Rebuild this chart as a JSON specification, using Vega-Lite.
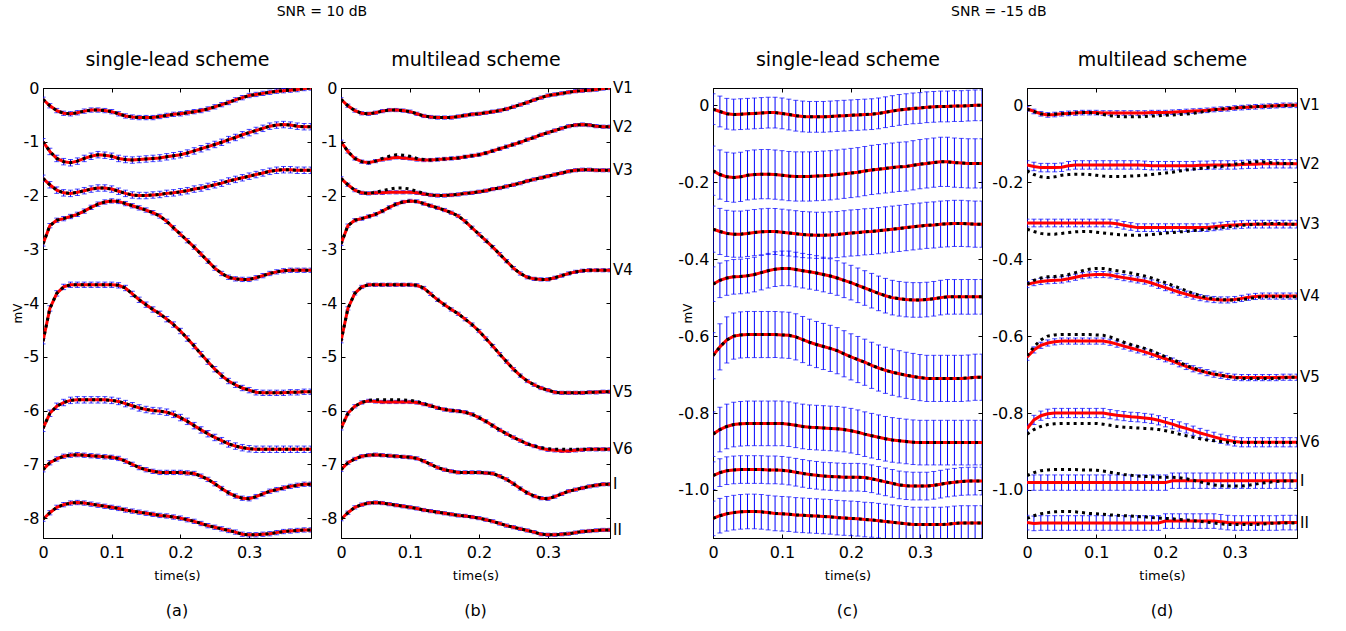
{
"$schema": "https://vega.github.io/schema/vega-lite/v6.json",
"padding": {"left": 10, "top": 5, "right": 5, "bottom": 5},
"background": "white",
"config": {
 "font": "DejaVu Sans",
 "view": {"stroke": "#000000", "strokeWidth": 1},
 "axis": {"grid": false, "tickSize": -4, "labelPadding": 8, "labelFlush": false, "labelOverlap": false, "labelFontSize": 16, "titleFontSize": 13, "titleFontWeight": "normal", "domainColor": "#000000", "tickColor": "#000000", "labelColor": "#000000", "titleColor": "#000000", "labelFont": "DejaVu Sans", "titleFont": "DejaVu Sans"},
 "axisBottom": {"labelPadding": 10, "titlePadding": 9},
 "axisTop": {"titleFontSize": 19, "titlePadding": 18},
 "title": {"fontWeight": "normal", "color": "#000000", "font": "DejaVu Sans", "anchor": "middle", "frame": "group"}
},
"datasets": {
"err": [
{"l":"V1","ea":0.04,"eb":0.03,"ec":0.04,"ed":0.006},
{"l":"V2","ea":0.06,"eb":0.03,"ec":0.064,"ed":0.011},
{"l":"V3","ea":0.06,"eb":0.03,"ec":0.06,"ed":0.01},
{"l":"V4","ea":0.04,"eb":0.03,"ec":0.045,"ed":0.008},
{"l":"V5","ea":0.05,"eb":0.03,"ec":0.06,"ed":0.008},
{"l":"V6","ea":0.06,"eb":0.03,"ec":0.058,"ed":0.012},
{"l":"I","ea":0.04,"eb":0.03,"ec":0.036,"ed":0.02},
{"l":"II","ea":0.04,"eb":0.03,"ec":0.045,"ed":0.019}
],
"sig": [
{"l":"V1","t":0,"k1":-0.21,"b":-0.21,"k2":-0.01,"d":-0.009},
{"l":"V1","t":0.01,"k1":-0.33,"b":-0.33,"k2":-0.016,"d":-0.016},
{"l":"V1","t":0.02,"k1":-0.42,"b":-0.42,"k2":-0.022,"d":-0.022},
{"l":"V1","t":0.03,"k1":-0.47,"b":-0.47,"k2":-0.024,"d":-0.025},
{"l":"V1","t":0.04,"k1":-0.48,"b":-0.48,"k2":-0.023,"d":-0.024},
{"l":"V1","t":0.05,"k1":-0.46,"b":-0.46,"k2":-0.022,"d":-0.022},
{"l":"V1","t":0.06,"k1":-0.43,"b":-0.43,"k2":-0.021,"d":-0.021},
{"l":"V1","t":0.07,"k1":-0.41,"b":-0.41,"k2":-0.02,"d":-0.02},
{"l":"V1","t":0.08,"k1":-0.41,"b":-0.41,"k2":-0.019,"d":-0.019},
{"l":"V1","t":0.09,"k1":-0.42,"b":-0.42,"k2":-0.019,"d":-0.019},
{"l":"V1","t":0.1,"k1":-0.44,"b":-0.44,"k2":-0.021,"d":-0.019},
{"l":"V1","t":0.11,"k1":-0.48,"b":-0.48,"k2":-0.024,"d":-0.02},
{"l":"V1","t":0.12,"k1":-0.52,"b":-0.52,"k2":-0.027,"d":-0.02},
{"l":"V1","t":0.13,"k1":-0.54,"b":-0.54,"k2":-0.029,"d":-0.02},
{"l":"V1","t":0.14,"k1":-0.55,"b":-0.55,"k2":-0.03,"d":-0.02},
{"l":"V1","t":0.15,"k1":-0.55,"b":-0.55,"k2":-0.03,"d":-0.02},
{"l":"V1","t":0.16,"k1":-0.55,"b":-0.55,"k2":-0.03,"d":-0.02},
{"l":"V1","t":0.17,"k1":-0.53,"b":-0.53,"k2":-0.029,"d":-0.02},
{"l":"V1","t":0.18,"k1":-0.51,"b":-0.51,"k2":-0.028,"d":-0.019},
{"l":"V1","t":0.19,"k1":-0.49,"b":-0.49,"k2":-0.027,"d":-0.019},
{"l":"V1","t":0.2,"k1":-0.48,"b":-0.48,"k2":-0.026,"d":-0.019},
{"l":"V1","t":0.21,"k1":-0.46,"b":-0.46,"k2":-0.025,"d":-0.018},
{"l":"V1","t":0.22,"k1":-0.44,"b":-0.44,"k2":-0.024,"d":-0.017},
{"l":"V1","t":0.23,"k1":-0.42,"b":-0.42,"k2":-0.023,"d":-0.016},
{"l":"V1","t":0.24,"k1":-0.39,"b":-0.39,"k2":-0.021,"d":-0.015},
{"l":"V1","t":0.25,"k1":-0.35,"b":-0.35,"k2":-0.018,"d":-0.014},
{"l":"V1","t":0.26,"k1":-0.31,"b":-0.31,"k2":-0.015,"d":-0.013},
{"l":"V1","t":0.27,"k1":-0.27,"b":-0.27,"k2":-0.012,"d":-0.011},
{"l":"V1","t":0.28,"k1":-0.22,"b":-0.22,"k2":-0.01,"d":-0.01},
{"l":"V1","t":0.29,"k1":-0.18,"b":-0.18,"k2":-0.008,"d":-0.009},
{"l":"V1","t":0.3,"k1":-0.14,"b":-0.14,"k2":-0.007,"d":-0.007},
{"l":"V1","t":0.31,"k1":-0.12,"b":-0.12,"k2":-0.005,"d":-0.006},
{"l":"V1","t":0.32,"k1":-0.1,"b":-0.1,"k2":-0.004,"d":-0.005},
{"l":"V1","t":0.33,"k1":-0.08,"b":-0.08,"k2":-0.003,"d":-0.004},
{"l":"V1","t":0.34,"k1":-0.06,"b":-0.06,"k2":-0.003,"d":-0.003},
{"l":"V1","t":0.35,"k1":-0.05,"b":-0.05,"k2":-0.002,"d":-0.002},
{"l":"V1","t":0.36,"k1":-0.04,"b":-0.04,"k2":-0.002,"d":-0.001},
{"l":"V1","t":0.37,"k1":-0.03,"b":-0.03,"k2":-0.001,"d":0},
{"l":"V1","t":0.38,"k1":-0.01,"b":-0.01,"k2":0,"d":0},
{"l":"V1","t":0.39,"k1":0,"b":0,"k2":0,"d":0},
{"l":"V2","t":0,"k1":-1.0,"b":-1.0,"k2":-0.17,"d":-0.155},
{"l":"V2","t":0.01,"k1":-1.18,"b":-1.18,"k2":-0.18,"d":-0.159},
{"l":"V2","t":0.02,"k1":-1.31,"b":-1.31,"k2":-0.186,"d":-0.162},
{"l":"V2","t":0.03,"k1":-1.37,"b":-1.37,"k2":-0.188,"d":-0.162},
{"l":"V2","t":0.04,"k1":-1.39,"b":-1.39,"k2":-0.186,"d":-0.162},
{"l":"V2","t":0.05,"k1":-1.36,"b":-1.36,"k2":-0.182,"d":-0.161},
{"l":"V2","t":0.06,"k1":-1.31,"b":-1.33,"k2":-0.18,"d":-0.157},
{"l":"V2","t":0.07,"k1":-1.27,"b":-1.31,"k2":-0.179,"d":-0.155},
{"l":"V2","t":0.08,"k1":-1.24,"b":-1.29,"k2":-0.179,"d":-0.155},
{"l":"V2","t":0.09,"k1":-1.25,"b":-1.3,"k2":-0.18,"d":-0.155},
{"l":"V2","t":0.1,"k1":-1.27,"b":-1.31,"k2":-0.182,"d":-0.155},
{"l":"V2","t":0.11,"k1":-1.31,"b":-1.33,"k2":-0.184,"d":-0.155},
{"l":"V2","t":0.12,"k1":-1.33,"b":-1.34,"k2":-0.185,"d":-0.155},
{"l":"V2","t":0.13,"k1":-1.34,"b":-1.34,"k2":-0.185,"d":-0.155},
{"l":"V2","t":0.14,"k1":-1.33,"b":-1.33,"k2":-0.185,"d":-0.155},
{"l":"V2","t":0.15,"k1":-1.32,"b":-1.32,"k2":-0.184,"d":-0.155},
{"l":"V2","t":0.16,"k1":-1.31,"b":-1.31,"k2":-0.183,"d":-0.155},
{"l":"V2","t":0.17,"k1":-1.3,"b":-1.3,"k2":-0.182,"d":-0.156},
{"l":"V2","t":0.18,"k1":-1.28,"b":-1.28,"k2":-0.18,"d":-0.157},
{"l":"V2","t":0.19,"k1":-1.26,"b":-1.26,"k2":-0.178,"d":-0.157},
{"l":"V2","t":0.2,"k1":-1.24,"b":-1.24,"k2":-0.176,"d":-0.157},
{"l":"V2","t":0.21,"k1":-1.21,"b":-1.21,"k2":-0.174,"d":-0.157},
{"l":"V2","t":0.22,"k1":-1.17,"b":-1.17,"k2":-0.171,"d":-0.157},
{"l":"V2","t":0.23,"k1":-1.13,"b":-1.13,"k2":-0.168,"d":-0.157},
{"l":"V2","t":0.24,"k1":-1.09,"b":-1.09,"k2":-0.166,"d":-0.157},
{"l":"V2","t":0.25,"k1":-1.05,"b":-1.05,"k2":-0.164,"d":-0.156},
{"l":"V2","t":0.26,"k1":-1.01,"b":-1.01,"k2":-0.162,"d":-0.156},
{"l":"V2","t":0.27,"k1":-0.96,"b":-0.96,"k2":-0.16,"d":-0.155},
{"l":"V2","t":0.28,"k1":-0.92,"b":-0.92,"k2":-0.159,"d":-0.155},
{"l":"V2","t":0.29,"k1":-0.87,"b":-0.87,"k2":-0.156,"d":-0.155},
{"l":"V2","t":0.3,"k1":-0.83,"b":-0.83,"k2":-0.153,"d":-0.155},
{"l":"V2","t":0.31,"k1":-0.79,"b":-0.79,"k2":-0.151,"d":-0.154},
{"l":"V2","t":0.32,"k1":-0.75,"b":-0.75,"k2":-0.149,"d":-0.153},
{"l":"V2","t":0.33,"k1":-0.71,"b":-0.71,"k2":-0.147,"d":-0.153},
{"l":"V2","t":0.34,"k1":-0.69,"b":-0.69,"k2":-0.147,"d":-0.152},
{"l":"V2","t":0.35,"k1":-0.68,"b":-0.68,"k2":-0.149,"d":-0.152},
{"l":"V2","t":0.36,"k1":-0.69,"b":-0.69,"k2":-0.15,"d":-0.152},
{"l":"V2","t":0.37,"k1":-0.71,"b":-0.71,"k2":-0.151,"d":-0.152},
{"l":"V2","t":0.38,"k1":-0.72,"b":-0.72,"k2":-0.151,"d":-0.152},
{"l":"V2","t":0.39,"k1":-0.72,"b":-0.72,"k2":-0.151,"d":-0.152},
{"l":"V3","t":0,"k1":-1.68,"b":-1.68,"k2":-0.322,"d":-0.306},
{"l":"V3","t":0.01,"k1":-1.8,"b":-1.8,"k2":-0.328,"d":-0.306},
{"l":"V3","t":0.02,"k1":-1.9,"b":-1.9,"k2":-0.333,"d":-0.306},
{"l":"V3","t":0.03,"k1":-1.95,"b":-1.95,"k2":-0.335,"d":-0.306},
{"l":"V3","t":0.04,"k1":-1.96,"b":-1.96,"k2":-0.335,"d":-0.306},
{"l":"V3","t":0.05,"k1":-1.94,"b":-1.95,"k2":-0.333,"d":-0.306},
{"l":"V3","t":0.06,"k1":-1.91,"b":-1.95,"k2":-0.331,"d":-0.306},
{"l":"V3","t":0.07,"k1":-1.88,"b":-1.94,"k2":-0.329,"d":-0.306},
{"l":"V3","t":0.08,"k1":-1.86,"b":-1.94,"k2":-0.328,"d":-0.306},
{"l":"V3","t":0.09,"k1":-1.86,"b":-1.94,"k2":-0.328,"d":-0.306},
{"l":"V3","t":0.1,"k1":-1.88,"b":-1.94,"k2":-0.33,"d":-0.306},
{"l":"V3","t":0.11,"k1":-1.92,"b":-1.95,"k2":-0.332,"d":-0.306},
{"l":"V3","t":0.12,"k1":-1.96,"b":-1.97,"k2":-0.334,"d":-0.306},
{"l":"V3","t":0.13,"k1":-1.99,"b":-1.99,"k2":-0.336,"d":-0.308},
{"l":"V3","t":0.14,"k1":-2.0,"b":-2.0,"k2":-0.337,"d":-0.312},
{"l":"V3","t":0.15,"k1":-2.0,"b":-2.0,"k2":-0.338,"d":-0.315},
{"l":"V3","t":0.16,"k1":-1.99,"b":-1.99,"k2":-0.338,"d":-0.318},
{"l":"V3","t":0.17,"k1":-1.98,"b":-1.98,"k2":-0.337,"d":-0.318},
{"l":"V3","t":0.18,"k1":-1.96,"b":-1.96,"k2":-0.336,"d":-0.318},
{"l":"V3","t":0.19,"k1":-1.95,"b":-1.95,"k2":-0.334,"d":-0.318},
{"l":"V3","t":0.2,"k1":-1.93,"b":-1.93,"k2":-0.332,"d":-0.318},
{"l":"V3","t":0.21,"k1":-1.91,"b":-1.91,"k2":-0.331,"d":-0.318},
{"l":"V3","t":0.22,"k1":-1.88,"b":-1.88,"k2":-0.329,"d":-0.318},
{"l":"V3","t":0.23,"k1":-1.86,"b":-1.86,"k2":-0.328,"d":-0.318},
{"l":"V3","t":0.24,"k1":-1.83,"b":-1.83,"k2":-0.326,"d":-0.318},
{"l":"V3","t":0.25,"k1":-1.8,"b":-1.8,"k2":-0.324,"d":-0.318},
{"l":"V3","t":0.26,"k1":-1.77,"b":-1.77,"k2":-0.322,"d":-0.318},
{"l":"V3","t":0.27,"k1":-1.73,"b":-1.73,"k2":-0.32,"d":-0.316},
{"l":"V3","t":0.28,"k1":-1.7,"b":-1.7,"k2":-0.318,"d":-0.314},
{"l":"V3","t":0.29,"k1":-1.67,"b":-1.67,"k2":-0.316,"d":-0.312},
{"l":"V3","t":0.3,"k1":-1.64,"b":-1.64,"k2":-0.314,"d":-0.311},
{"l":"V3","t":0.31,"k1":-1.61,"b":-1.61,"k2":-0.312,"d":-0.31},
{"l":"V3","t":0.32,"k1":-1.58,"b":-1.58,"k2":-0.311,"d":-0.309},
{"l":"V3","t":0.33,"k1":-1.55,"b":-1.55,"k2":-0.309,"d":-0.309},
{"l":"V3","t":0.34,"k1":-1.53,"b":-1.53,"k2":-0.308,"d":-0.309},
{"l":"V3","t":0.35,"k1":-1.52,"b":-1.52,"k2":-0.307,"d":-0.309},
{"l":"V3","t":0.36,"k1":-1.52,"b":-1.52,"k2":-0.307,"d":-0.309},
{"l":"V3","t":0.37,"k1":-1.53,"b":-1.53,"k2":-0.308,"d":-0.309},
{"l":"V3","t":0.38,"k1":-1.53,"b":-1.53,"k2":-0.309,"d":-0.309},
{"l":"V3","t":0.39,"k1":-1.53,"b":-1.53,"k2":-0.309,"d":-0.309},
{"l":"V4","t":0,"k1":-2.9,"b":-2.9,"k2":-0.465,"d":-0.466},
{"l":"V4","t":0.01,"k1":-2.56,"b":-2.56,"k2":-0.455,"d":-0.461},
{"l":"V4","t":0.02,"k1":-2.46,"b":-2.46,"k2":-0.449,"d":-0.458},
{"l":"V4","t":0.03,"k1":-2.43,"b":-2.43,"k2":-0.446,"d":-0.456},
{"l":"V4","t":0.04,"k1":-2.39,"b":-2.39,"k2":-0.445,"d":-0.455},
{"l":"V4","t":0.05,"k1":-2.35,"b":-2.35,"k2":-0.443,"d":-0.454},
{"l":"V4","t":0.06,"k1":-2.29,"b":-2.29,"k2":-0.44,"d":-0.451},
{"l":"V4","t":0.07,"k1":-2.22,"b":-2.22,"k2":-0.435,"d":-0.447},
{"l":"V4","t":0.08,"k1":-2.16,"b":-2.16,"k2":-0.43,"d":-0.443},
{"l":"V4","t":0.09,"k1":-2.12,"b":-2.12,"k2":-0.426,"d":-0.441},
{"l":"V4","t":0.1,"k1":-2.1,"b":-2.1,"k2":-0.424,"d":-0.44},
{"l":"V4","t":0.11,"k1":-2.11,"b":-2.11,"k2":-0.424,"d":-0.44},
{"l":"V4","t":0.12,"k1":-2.15,"b":-2.15,"k2":-0.427,"d":-0.441},
{"l":"V4","t":0.13,"k1":-2.19,"b":-2.19,"k2":-0.43,"d":-0.445},
{"l":"V4","t":0.14,"k1":-2.23,"b":-2.23,"k2":-0.433,"d":-0.448},
{"l":"V4","t":0.15,"k1":-2.27,"b":-2.27,"k2":-0.436,"d":-0.451},
{"l":"V4","t":0.16,"k1":-2.32,"b":-2.32,"k2":-0.44,"d":-0.454},
{"l":"V4","t":0.17,"k1":-2.38,"b":-2.38,"k2":-0.444,"d":-0.457},
{"l":"V4","t":0.18,"k1":-2.48,"b":-2.48,"k2":-0.449,"d":-0.462},
{"l":"V4","t":0.19,"k1":-2.6,"b":-2.6,"k2":-0.455,"d":-0.468},
{"l":"V4","t":0.2,"k1":-2.72,"b":-2.72,"k2":-0.461,"d":-0.474},
{"l":"V4","t":0.21,"k1":-2.84,"b":-2.84,"k2":-0.468,"d":-0.48},
{"l":"V4","t":0.22,"k1":-2.96,"b":-2.96,"k2":-0.475,"d":-0.486},
{"l":"V4","t":0.23,"k1":-3.09,"b":-3.09,"k2":-0.482,"d":-0.491},
{"l":"V4","t":0.24,"k1":-3.22,"b":-3.22,"k2":-0.489,"d":-0.496},
{"l":"V4","t":0.25,"k1":-3.35,"b":-3.35,"k2":-0.495,"d":-0.5},
{"l":"V4","t":0.26,"k1":-3.45,"b":-3.45,"k2":-0.5,"d":-0.503},
{"l":"V4","t":0.27,"k1":-3.52,"b":-3.52,"k2":-0.503,"d":-0.505},
{"l":"V4","t":0.28,"k1":-3.55,"b":-3.55,"k2":-0.505,"d":-0.506},
{"l":"V4","t":0.29,"k1":-3.56,"b":-3.56,"k2":-0.506,"d":-0.506},
{"l":"V4","t":0.3,"k1":-3.56,"b":-3.56,"k2":-0.506,"d":-0.505},
{"l":"V4","t":0.31,"k1":-3.53,"b":-3.53,"k2":-0.505,"d":-0.502},
{"l":"V4","t":0.32,"k1":-3.49,"b":-3.49,"k2":-0.503,"d":-0.499},
{"l":"V4","t":0.33,"k1":-3.45,"b":-3.45,"k2":-0.5,"d":-0.497},
{"l":"V4","t":0.34,"k1":-3.42,"b":-3.42,"k2":-0.498,"d":-0.496},
{"l":"V4","t":0.35,"k1":-3.4,"b":-3.4,"k2":-0.498,"d":-0.496},
{"l":"V4","t":0.36,"k1":-3.39,"b":-3.39,"k2":-0.498,"d":-0.496},
{"l":"V4","t":0.37,"k1":-3.39,"b":-3.39,"k2":-0.498,"d":-0.496},
{"l":"V4","t":0.38,"k1":-3.39,"b":-3.39,"k2":-0.498,"d":-0.496},
{"l":"V4","t":0.39,"k1":-3.39,"b":-3.39,"k2":-0.498,"d":-0.496},
{"l":"V5","t":0,"k1":-4.71,"b":-4.71,"k2":-0.651,"d":-0.655},
{"l":"V5","t":0.01,"k1":-4.1,"b":-4.1,"k2":-0.628,"d":-0.636},
{"l":"V5","t":0.02,"k1":-3.82,"b":-3.82,"k2":-0.61,"d":-0.624},
{"l":"V5","t":0.03,"k1":-3.7,"b":-3.7,"k2":-0.6,"d":-0.618},
{"l":"V5","t":0.04,"k1":-3.66,"b":-3.66,"k2":-0.597,"d":-0.615},
{"l":"V5","t":0.05,"k1":-3.66,"b":-3.66,"k2":-0.596,"d":-0.613},
{"l":"V5","t":0.06,"k1":-3.66,"b":-3.66,"k2":-0.596,"d":-0.613},
{"l":"V5","t":0.07,"k1":-3.66,"b":-3.66,"k2":-0.596,"d":-0.613},
{"l":"V5","t":0.08,"k1":-3.66,"b":-3.66,"k2":-0.596,"d":-0.613},
{"l":"V5","t":0.09,"k1":-3.66,"b":-3.66,"k2":-0.596,"d":-0.613},
{"l":"V5","t":0.1,"k1":-3.66,"b":-3.66,"k2":-0.597,"d":-0.613},
{"l":"V5","t":0.11,"k1":-3.67,"b":-3.67,"k2":-0.598,"d":-0.613},
{"l":"V5","t":0.12,"k1":-3.72,"b":-3.72,"k2":-0.602,"d":-0.616},
{"l":"V5","t":0.13,"k1":-3.83,"b":-3.83,"k2":-0.609,"d":-0.621},
{"l":"V5","t":0.14,"k1":-3.94,"b":-3.94,"k2":-0.616,"d":-0.626},
{"l":"V5","t":0.15,"k1":-4.03,"b":-4.03,"k2":-0.622,"d":-0.631},
{"l":"V5","t":0.16,"k1":-4.12,"b":-4.12,"k2":-0.627,"d":-0.636},
{"l":"V5","t":0.17,"k1":-4.2,"b":-4.2,"k2":-0.632,"d":-0.641},
{"l":"V5","t":0.18,"k1":-4.3,"b":-4.3,"k2":-0.638,"d":-0.647},
{"l":"V5","t":0.19,"k1":-4.4,"b":-4.4,"k2":-0.646,"d":-0.653},
{"l":"V5","t":0.2,"k1":-4.52,"b":-4.52,"k2":-0.654,"d":-0.659},
{"l":"V5","t":0.21,"k1":-4.66,"b":-4.66,"k2":-0.661,"d":-0.665},
{"l":"V5","t":0.22,"k1":-4.8,"b":-4.8,"k2":-0.668,"d":-0.672},
{"l":"V5","t":0.23,"k1":-4.95,"b":-4.95,"k2":-0.676,"d":-0.679},
{"l":"V5","t":0.24,"k1":-5.09,"b":-5.09,"k2":-0.683,"d":-0.685},
{"l":"V5","t":0.25,"k1":-5.23,"b":-5.23,"k2":-0.689,"d":-0.69},
{"l":"V5","t":0.26,"k1":-5.35,"b":-5.35,"k2":-0.694,"d":-0.695},
{"l":"V5","t":0.27,"k1":-5.45,"b":-5.45,"k2":-0.698,"d":-0.699},
{"l":"V5","t":0.28,"k1":-5.52,"b":-5.52,"k2":-0.702,"d":-0.702},
{"l":"V5","t":0.29,"k1":-5.58,"b":-5.58,"k2":-0.705,"d":-0.705},
{"l":"V5","t":0.3,"k1":-5.62,"b":-5.62,"k2":-0.708,"d":-0.707},
{"l":"V5","t":0.31,"k1":-5.66,"b":-5.66,"k2":-0.71,"d":-0.708},
{"l":"V5","t":0.32,"k1":-5.67,"b":-5.67,"k2":-0.71,"d":-0.708},
{"l":"V5","t":0.33,"k1":-5.67,"b":-5.67,"k2":-0.71,"d":-0.708},
{"l":"V5","t":0.34,"k1":-5.67,"b":-5.67,"k2":-0.71,"d":-0.708},
{"l":"V5","t":0.35,"k1":-5.67,"b":-5.67,"k2":-0.71,"d":-0.708},
{"l":"V5","t":0.36,"k1":-5.66,"b":-5.66,"k2":-0.71,"d":-0.708},
{"l":"V5","t":0.37,"k1":-5.66,"b":-5.66,"k2":-0.709,"d":-0.707},
{"l":"V5","t":0.38,"k1":-5.65,"b":-5.65,"k2":-0.707,"d":-0.707},
{"l":"V5","t":0.39,"k1":-5.65,"b":-5.65,"k2":-0.707,"d":-0.707},
{"l":"V6","t":0,"k1":-6.33,"b":-6.33,"k2":-0.855,"d":-0.841},
{"l":"V6","t":0.01,"k1":-6.05,"b":-6.05,"k2":-0.843,"d":-0.818},
{"l":"V6","t":0.02,"k1":-5.92,"b":-5.92,"k2":-0.835,"d":-0.807},
{"l":"V6","t":0.03,"k1":-5.85,"b":-5.85,"k2":-0.83,"d":-0.802},
{"l":"V6","t":0.04,"k1":-5.81,"b":-5.82,"k2":-0.828,"d":-0.8},
{"l":"V6","t":0.05,"k1":-5.8,"b":-5.83,"k2":-0.827,"d":-0.8},
{"l":"V6","t":0.06,"k1":-5.8,"b":-5.84,"k2":-0.827,"d":-0.8},
{"l":"V6","t":0.07,"k1":-5.8,"b":-5.84,"k2":-0.827,"d":-0.8},
{"l":"V6","t":0.08,"k1":-5.8,"b":-5.84,"k2":-0.827,"d":-0.8},
{"l":"V6","t":0.09,"k1":-5.8,"b":-5.84,"k2":-0.827,"d":-0.8},
{"l":"V6","t":0.1,"k1":-5.81,"b":-5.84,"k2":-0.827,"d":-0.8},
{"l":"V6","t":0.11,"k1":-5.83,"b":-5.85,"k2":-0.829,"d":-0.8},
{"l":"V6","t":0.12,"k1":-5.87,"b":-5.88,"k2":-0.832,"d":-0.803},
{"l":"V6","t":0.13,"k1":-5.91,"b":-5.91,"k2":-0.835,"d":-0.806},
{"l":"V6","t":0.14,"k1":-5.95,"b":-5.95,"k2":-0.837,"d":-0.808},
{"l":"V6","t":0.15,"k1":-5.98,"b":-5.98,"k2":-0.838,"d":-0.81},
{"l":"V6","t":0.16,"k1":-6.0,"b":-6.0,"k2":-0.839,"d":-0.811},
{"l":"V6","t":0.17,"k1":-6.01,"b":-6.01,"k2":-0.84,"d":-0.813},
{"l":"V6","t":0.18,"k1":-6.03,"b":-6.03,"k2":-0.841,"d":-0.815},
{"l":"V6","t":0.19,"k1":-6.07,"b":-6.07,"k2":-0.843,"d":-0.819},
{"l":"V6","t":0.2,"k1":-6.13,"b":-6.13,"k2":-0.846,"d":-0.824},
{"l":"V6","t":0.21,"k1":-6.2,"b":-6.2,"k2":-0.85,"d":-0.829},
{"l":"V6","t":0.22,"k1":-6.28,"b":-6.28,"k2":-0.855,"d":-0.835},
{"l":"V6","t":0.23,"k1":-6.36,"b":-6.36,"k2":-0.859,"d":-0.84},
{"l":"V6","t":0.24,"k1":-6.43,"b":-6.43,"k2":-0.863,"d":-0.846},
{"l":"V6","t":0.25,"k1":-6.5,"b":-6.5,"k2":-0.867,"d":-0.852},
{"l":"V6","t":0.26,"k1":-6.56,"b":-6.56,"k2":-0.87,"d":-0.857},
{"l":"V6","t":0.27,"k1":-6.62,"b":-6.62,"k2":-0.872,"d":-0.862},
{"l":"V6","t":0.28,"k1":-6.66,"b":-6.66,"k2":-0.874,"d":-0.867},
{"l":"V6","t":0.29,"k1":-6.69,"b":-6.7,"k2":-0.876,"d":-0.871},
{"l":"V6","t":0.3,"k1":-6.71,"b":-6.73,"k2":-0.877,"d":-0.874},
{"l":"V6","t":0.31,"k1":-6.72,"b":-6.74,"k2":-0.877,"d":-0.876},
{"l":"V6","t":0.32,"k1":-6.72,"b":-6.75,"k2":-0.877,"d":-0.876},
{"l":"V6","t":0.33,"k1":-6.72,"b":-6.75,"k2":-0.877,"d":-0.876},
{"l":"V6","t":0.34,"k1":-6.72,"b":-6.74,"k2":-0.877,"d":-0.876},
{"l":"V6","t":0.35,"k1":-6.72,"b":-6.73,"k2":-0.877,"d":-0.876},
{"l":"V6","t":0.36,"k1":-6.72,"b":-6.72,"k2":-0.877,"d":-0.876},
{"l":"V6","t":0.37,"k1":-6.72,"b":-6.72,"k2":-0.877,"d":-0.876},
{"l":"V6","t":0.38,"k1":-6.72,"b":-6.72,"k2":-0.877,"d":-0.876},
{"l":"V6","t":0.39,"k1":-6.72,"b":-6.72,"k2":-0.877,"d":-0.876},
{"l":"I","t":0,"k1":-7.1,"b":-7.1,"k2":-0.963,"d":-0.981},
{"l":"I","t":0.01,"k1":-6.97,"b":-6.97,"k2":-0.955,"d":-0.981},
{"l":"I","t":0.02,"k1":-6.9,"b":-6.9,"k2":-0.95,"d":-0.981},
{"l":"I","t":0.03,"k1":-6.85,"b":-6.85,"k2":-0.948,"d":-0.981},
{"l":"I","t":0.04,"k1":-6.83,"b":-6.83,"k2":-0.947,"d":-0.981},
{"l":"I","t":0.05,"k1":-6.82,"b":-6.82,"k2":-0.947,"d":-0.981},
{"l":"I","t":0.06,"k1":-6.83,"b":-6.83,"k2":-0.947,"d":-0.981},
{"l":"I","t":0.07,"k1":-6.84,"b":-6.84,"k2":-0.947,"d":-0.981},
{"l":"I","t":0.08,"k1":-6.85,"b":-6.85,"k2":-0.948,"d":-0.981},
{"l":"I","t":0.09,"k1":-6.86,"b":-6.86,"k2":-0.948,"d":-0.981},
{"l":"I","t":0.1,"k1":-6.87,"b":-6.87,"k2":-0.949,"d":-0.981},
{"l":"I","t":0.11,"k1":-6.89,"b":-6.89,"k2":-0.951,"d":-0.981},
{"l":"I","t":0.12,"k1":-6.94,"b":-6.94,"k2":-0.954,"d":-0.981},
{"l":"I","t":0.13,"k1":-7.0,"b":-7.0,"k2":-0.957,"d":-0.981},
{"l":"I","t":0.14,"k1":-7.06,"b":-7.06,"k2":-0.96,"d":-0.981},
{"l":"I","t":0.15,"k1":-7.1,"b":-7.1,"k2":-0.962,"d":-0.981},
{"l":"I","t":0.16,"k1":-7.13,"b":-7.13,"k2":-0.964,"d":-0.981},
{"l":"I","t":0.17,"k1":-7.15,"b":-7.15,"k2":-0.965,"d":-0.981},
{"l":"I","t":0.18,"k1":-7.15,"b":-7.15,"k2":-0.966,"d":-0.981},
{"l":"I","t":0.19,"k1":-7.15,"b":-7.15,"k2":-0.967,"d":-0.981},
{"l":"I","t":0.2,"k1":-7.15,"b":-7.15,"k2":-0.967,"d":-0.981},
{"l":"I","t":0.21,"k1":-7.16,"b":-7.16,"k2":-0.967,"d":-0.976},
{"l":"I","t":0.22,"k1":-7.17,"b":-7.17,"k2":-0.968,"d":-0.976},
{"l":"I","t":0.23,"k1":-7.22,"b":-7.22,"k2":-0.971,"d":-0.976},
{"l":"I","t":0.24,"k1":-7.28,"b":-7.28,"k2":-0.975,"d":-0.976},
{"l":"I","t":0.25,"k1":-7.36,"b":-7.36,"k2":-0.979,"d":-0.976},
{"l":"I","t":0.26,"k1":-7.45,"b":-7.45,"k2":-0.983,"d":-0.976},
{"l":"I","t":0.27,"k1":-7.53,"b":-7.53,"k2":-0.987,"d":-0.976},
{"l":"I","t":0.28,"k1":-7.59,"b":-7.59,"k2":-0.989,"d":-0.976},
{"l":"I","t":0.29,"k1":-7.63,"b":-7.63,"k2":-0.99,"d":-0.976},
{"l":"I","t":0.3,"k1":-7.64,"b":-7.64,"k2":-0.99,"d":-0.976},
{"l":"I","t":0.31,"k1":-7.6,"b":-7.6,"k2":-0.99,"d":-0.976},
{"l":"I","t":0.32,"k1":-7.55,"b":-7.55,"k2":-0.988,"d":-0.976},
{"l":"I","t":0.33,"k1":-7.5,"b":-7.5,"k2":-0.985,"d":-0.976},
{"l":"I","t":0.34,"k1":-7.47,"b":-7.47,"k2":-0.982,"d":-0.976},
{"l":"I","t":0.35,"k1":-7.44,"b":-7.44,"k2":-0.98,"d":-0.976},
{"l":"I","t":0.36,"k1":-7.41,"b":-7.41,"k2":-0.978,"d":-0.976},
{"l":"I","t":0.37,"k1":-7.39,"b":-7.39,"k2":-0.977,"d":-0.976},
{"l":"I","t":0.38,"k1":-7.37,"b":-7.37,"k2":-0.977,"d":-0.976},
{"l":"I","t":0.39,"k1":-7.37,"b":-7.37,"k2":-0.977,"d":-0.976},
{"l":"II","t":0,"k1":-8.02,"b":-8.02,"k2":-1.074,"d":-1.085},
{"l":"II","t":0.01,"k1":-7.9,"b":-7.9,"k2":-1.067,"d":-1.087},
{"l":"II","t":0.02,"k1":-7.8,"b":-7.8,"k2":-1.062,"d":-1.086},
{"l":"II","t":0.03,"k1":-7.75,"b":-7.75,"k2":-1.059,"d":-1.086},
{"l":"II","t":0.04,"k1":-7.72,"b":-7.72,"k2":-1.057,"d":-1.086},
{"l":"II","t":0.05,"k1":-7.71,"b":-7.71,"k2":-1.056,"d":-1.086},
{"l":"II","t":0.06,"k1":-7.72,"b":-7.72,"k2":-1.056,"d":-1.086},
{"l":"II","t":0.07,"k1":-7.74,"b":-7.74,"k2":-1.057,"d":-1.086},
{"l":"II","t":0.08,"k1":-7.76,"b":-7.76,"k2":-1.059,"d":-1.086},
{"l":"II","t":0.09,"k1":-7.78,"b":-7.78,"k2":-1.061,"d":-1.086},
{"l":"II","t":0.1,"k1":-7.8,"b":-7.8,"k2":-1.062,"d":-1.086},
{"l":"II","t":0.11,"k1":-7.82,"b":-7.82,"k2":-1.063,"d":-1.086},
{"l":"II","t":0.12,"k1":-7.85,"b":-7.85,"k2":-1.065,"d":-1.086},
{"l":"II","t":0.13,"k1":-7.87,"b":-7.87,"k2":-1.066,"d":-1.086},
{"l":"II","t":0.14,"k1":-7.89,"b":-7.89,"k2":-1.067,"d":-1.086},
{"l":"II","t":0.15,"k1":-7.91,"b":-7.91,"k2":-1.068,"d":-1.086},
{"l":"II","t":0.16,"k1":-7.93,"b":-7.93,"k2":-1.069,"d":-1.086},
{"l":"II","t":0.17,"k1":-7.95,"b":-7.95,"k2":-1.07,"d":-1.086},
{"l":"II","t":0.18,"k1":-7.96,"b":-7.96,"k2":-1.072,"d":-1.086},
{"l":"II","t":0.19,"k1":-7.98,"b":-7.98,"k2":-1.073,"d":-1.086},
{"l":"II","t":0.2,"k1":-8.0,"b":-8.0,"k2":-1.074,"d":-1.081},
{"l":"II","t":0.21,"k1":-8.03,"b":-8.03,"k2":-1.075,"d":-1.081},
{"l":"II","t":0.22,"k1":-8.06,"b":-8.06,"k2":-1.077,"d":-1.081},
{"l":"II","t":0.23,"k1":-8.1,"b":-8.1,"k2":-1.078,"d":-1.081},
{"l":"II","t":0.24,"k1":-8.14,"b":-8.14,"k2":-1.08,"d":-1.081},
{"l":"II","t":0.25,"k1":-8.17,"b":-8.17,"k2":-1.082,"d":-1.081},
{"l":"II","t":0.26,"k1":-8.2,"b":-8.2,"k2":-1.084,"d":-1.081},
{"l":"II","t":0.27,"k1":-8.23,"b":-8.23,"k2":-1.086,"d":-1.081},
{"l":"II","t":0.28,"k1":-8.26,"b":-8.26,"k2":-1.088,"d":-1.083},
{"l":"II","t":0.29,"k1":-8.3,"b":-8.3,"k2":-1.09,"d":-1.085},
{"l":"II","t":0.3,"k1":-8.31,"b":-8.31,"k2":-1.09,"d":-1.086},
{"l":"II","t":0.31,"k1":-8.31,"b":-8.31,"k2":-1.09,"d":-1.086},
{"l":"II","t":0.32,"k1":-8.3,"b":-8.3,"k2":-1.09,"d":-1.086},
{"l":"II","t":0.33,"k1":-8.29,"b":-8.29,"k2":-1.09,"d":-1.086},
{"l":"II","t":0.34,"k1":-8.27,"b":-8.27,"k2":-1.089,"d":-1.086},
{"l":"II","t":0.35,"k1":-8.25,"b":-8.25,"k2":-1.087,"d":-1.086},
{"l":"II","t":0.36,"k1":-8.24,"b":-8.24,"k2":-1.086,"d":-1.086},
{"l":"II","t":0.37,"k1":-8.23,"b":-8.23,"k2":-1.086,"d":-1.085},
{"l":"II","t":0.38,"k1":-8.22,"b":-8.22,"k2":-1.086,"d":-1.085},
{"l":"II","t":0.39,"k1":-8.22,"b":-8.22,"k2":-1.086,"d":-1.085}
]
},
"spacing": 43,
"hconcat": [
{
 "title": {"text": "SNR = 10 dB", "fontSize": 14, "offset": 31, "anchor": "middle", "frame": "bounds"},
 "spacing": 8,
 "hconcat": [
  {
   "width": 268, "height": 450,
   "title": {"text": "(a)", "orient": "bottom", "fontSize": 16, "offset": 21},
   "layer": [
    {"data": {"name": "sig"}, "transform": [{"lookup": "l", "from": {"data": {"name": "err"}, "key": "l", "fields": ["ea"]}}],
     "mark": {"type": "errorbar", "ticks": true, "size": 5, "thickness": 1, "color": "#0000ff", "clip": true},
     "encoding": {"x": {"field": "t", "type": "quantitative", "scale": {"domain": [0, 0.39], "nice": false, "zero": false}, "axis": null},
      "y": {"field": "k1", "type": "quantitative", "scale": {"domain": [-8.37, 0], "nice": false, "zero": false}, "axis": null},
      "yError": {"field": "ea"}}},
    {"data": {"name": "sig"}, "mark": {"type": "line", "color": "#ff0000", "strokeWidth": 3, "clip": true},
     "encoding": {"x": {"field": "t", "type": "quantitative", "scale": {"domain": [0, 0.39], "nice": false, "zero": false}, "axis": {"orient": "top", "values": [0, 0.1, 0.2, 0.3], "labels": false, "title": "single-lead scheme"}},
      "y": {"field": "k1", "type": "quantitative", "scale": {"domain": [-8.37, 0], "nice": false, "zero": false}, "axis": {"orient": "right", "values": [0, -1, -2, -3, -4, -5, -6, -7, -8], "labels": false, "title": null}},
      "detail": {"field": "l"}}},
    {"data": {"name": "sig"}, "mark": {"type": "line", "color": "#000000", "strokeWidth": 3, "strokeDash": [3, 4], "clip": true},
     "encoding": {"x": {"field": "t", "type": "quantitative", "scale": {"domain": [0, 0.39], "nice": false, "zero": false}, "axis": {"orient": "bottom", "values": [0, 0.1, 0.2, 0.3], "title": "time(s)", "labelExpr": "datum.value == 0 ? '0' : format(datum.value, '.1f')"}},
      "y": {"field": "k1", "type": "quantitative", "scale": {"domain": [-8.37, 0], "nice": false, "zero": false}, "axis": {"orient": "left", "values": [0, -1, -2, -3, -4, -5, -6, -7, -8], "title": "mV", "titleFontSize": 12, "titleX": -26, "titleBaseline": "middle", "labelExpr": "replace(format(datum.value, 'd'), '−', '-')"}},
      "detail": {"field": "l"}}}
   ],
   "resolve": {"axis": {"x": "independent", "y": "independent"}}
  },
  {
   "width": 269, "height": 450,
   "title": {"text": "(b)", "orient": "bottom", "fontSize": 16, "offset": 21},
   "layer": [
    {"data": {"name": "sig"}, "transform": [{"lookup": "l", "from": {"data": {"name": "err"}, "key": "l", "fields": ["eb"]}}],
     "mark": {"type": "errorbar", "ticks": true, "size": 5, "thickness": 1, "color": "#0000ff", "clip": true},
     "encoding": {"x": {"field": "t", "type": "quantitative", "scale": {"domain": [0, 0.39], "nice": false, "zero": false}, "axis": null},
      "y": {"field": "b", "type": "quantitative", "scale": {"domain": [-8.37, 0], "nice": false, "zero": false}, "axis": null},
      "yError": {"field": "eb"}}},
    {"data": {"name": "sig"}, "mark": {"type": "line", "color": "#ff0000", "strokeWidth": 3, "clip": true},
     "encoding": {"x": {"field": "t", "type": "quantitative", "scale": {"domain": [0, 0.39], "nice": false, "zero": false}, "axis": {"orient": "top", "values": [0, 0.1, 0.2, 0.3], "labels": false, "title": "multilead scheme"}},
      "y": {"field": "b", "type": "quantitative", "scale": {"domain": [-8.37, 0], "nice": false, "zero": false}, "axis": {"orient": "right", "values": [0, -1, -2, -3, -4, -5, -6, -7, -8], "labels": false, "title": null}},
      "detail": {"field": "l"}}},
    {"data": {"name": "sig"}, "mark": {"type": "line", "color": "#000000", "strokeWidth": 3, "strokeDash": [3, 4], "clip": true},
     "encoding": {"x": {"field": "t", "type": "quantitative", "scale": {"domain": [0, 0.39], "nice": false, "zero": false}, "axis": {"orient": "bottom", "values": [0, 0.1, 0.2, 0.3], "title": "time(s)", "labelExpr": "datum.value == 0 ? '0' : format(datum.value, '.1f')"}},
      "y": {"field": "k1", "type": "quantitative", "scale": {"domain": [-8.37, 0], "nice": false, "zero": false}, "axis": {"orient": "left", "values": [0, -1, -2, -3, -4, -5, -6, -7, -8], "title": null, "labelExpr": "replace(format(datum.value, 'd'), '−', '-')"}},
      "detail": {"field": "l"}}},
    {"data": {"name": "sig"}, "transform": [{"filter": "datum.t == 0.39"}],
     "mark": {"type": "text", "align": "left", "baseline": "middle", "dx": 3, "fontSize": 15, "color": "#000000"},
     "encoding": {"x": {"field": "t", "type": "quantitative", "scale": {"domain": [0, 0.39], "nice": false, "zero": false}, "axis": null},
      "y": {"field": "k1", "type": "quantitative", "scale": {"domain": [-8.37, 0], "nice": false, "zero": false}, "axis": null},
      "text": {"field": "l"}}}
   ],
   "resolve": {"axis": {"x": "independent", "y": "independent"}}
  }
 ]
},
{
 "title": {"text": "SNR = -15 dB", "fontSize": 14, "offset": 31, "anchor": "middle", "frame": "bounds"},
 "spacing": 8,
 "hconcat": [
  {
   "width": 269, "height": 450,
   "title": {"text": "(c)", "orient": "bottom", "fontSize": 16, "offset": 21},
   "layer": [
    {"data": {"name": "sig"}, "transform": [{"lookup": "l", "from": {"data": {"name": "err"}, "key": "l", "fields": ["ec"]}}],
     "mark": {"type": "errorbar", "ticks": true, "size": 5, "thickness": 1, "color": "#0000ff", "clip": true},
     "encoding": {"x": {"field": "t", "type": "quantitative", "scale": {"domain": [0, 0.39], "nice": false, "zero": false}, "axis": null},
      "y": {"field": "k2", "type": "quantitative", "scale": {"domain": [-1.125, 0.045], "nice": false, "zero": false}, "axis": null},
      "yError": {"field": "ec"}}},
    {"data": {"name": "sig"}, "mark": {"type": "line", "color": "#ff0000", "strokeWidth": 3, "clip": true},
     "encoding": {"x": {"field": "t", "type": "quantitative", "scale": {"domain": [0, 0.39], "nice": false, "zero": false}, "axis": {"orient": "top", "values": [0, 0.1, 0.2, 0.3], "labels": false, "title": "single-lead scheme"}},
      "y": {"field": "k2", "type": "quantitative", "scale": {"domain": [-1.125, 0.045], "nice": false, "zero": false}, "axis": {"orient": "right", "values": [0, -0.2, -0.4, -0.6, -0.8, -1.0], "labels": false, "title": null}},
      "detail": {"field": "l"}}},
    {"data": {"name": "sig"}, "mark": {"type": "line", "color": "#000000", "strokeWidth": 3, "strokeDash": [3, 4], "clip": true},
     "encoding": {"x": {"field": "t", "type": "quantitative", "scale": {"domain": [0, 0.39], "nice": false, "zero": false}, "axis": {"orient": "bottom", "values": [0, 0.1, 0.2, 0.3], "title": "time(s)", "labelExpr": "datum.value == 0 ? '0' : format(datum.value, '.1f')"}},
      "y": {"field": "k2", "type": "quantitative", "scale": {"domain": [-1.125, 0.045], "nice": false, "zero": false}, "axis": {"orient": "left", "values": [0, -0.2, -0.4, -0.6, -0.8, -1.0], "title": "mV", "titleFontSize": 12, "titleX": -26, "titleBaseline": "middle", "labelExpr": "datum.value == 0 ? '0' : replace(format(datum.value, '.1f'), '−', '-')"}},
      "detail": {"field": "l"}}}
   ],
   "resolve": {"axis": {"x": "independent", "y": "independent"}}
  },
  {
   "width": 270, "height": 450,
   "title": {"text": "(d)", "orient": "bottom", "fontSize": 16, "offset": 21},
   "layer": [
    {"data": {"name": "sig"}, "transform": [{"lookup": "l", "from": {"data": {"name": "err"}, "key": "l", "fields": ["ed"]}}],
     "mark": {"type": "errorbar", "ticks": true, "size": 5, "thickness": 1, "color": "#0000ff", "clip": true},
     "encoding": {"x": {"field": "t", "type": "quantitative", "scale": {"domain": [0, 0.39], "nice": false, "zero": false}, "axis": null},
      "y": {"field": "d", "type": "quantitative", "scale": {"domain": [-1.125, 0.045], "nice": false, "zero": false}, "axis": null},
      "yError": {"field": "ed"}}},
    {"data": {"name": "sig"}, "mark": {"type": "line", "color": "#ff0000", "strokeWidth": 3, "clip": true},
     "encoding": {"x": {"field": "t", "type": "quantitative", "scale": {"domain": [0, 0.39], "nice": false, "zero": false}, "axis": {"orient": "top", "values": [0, 0.1, 0.2, 0.3], "labels": false, "title": "multilead scheme"}},
      "y": {"field": "d", "type": "quantitative", "scale": {"domain": [-1.125, 0.045], "nice": false, "zero": false}, "axis": {"orient": "right", "values": [0, -0.2, -0.4, -0.6, -0.8, -1.0], "labels": false, "title": null}},
      "detail": {"field": "l"}}},
    {"data": {"name": "sig"}, "mark": {"type": "line", "color": "#000000", "strokeWidth": 3, "strokeDash": [3, 4], "clip": true},
     "encoding": {"x": {"field": "t", "type": "quantitative", "scale": {"domain": [0, 0.39], "nice": false, "zero": false}, "axis": {"orient": "bottom", "values": [0, 0.1, 0.2, 0.3], "title": "time(s)", "labelExpr": "datum.value == 0 ? '0' : format(datum.value, '.1f')"}},
      "y": {"field": "k2", "type": "quantitative", "scale": {"domain": [-1.125, 0.045], "nice": false, "zero": false}, "axis": {"orient": "left", "values": [0, -0.2, -0.4, -0.6, -0.8, -1.0], "title": null, "labelExpr": "datum.value == 0 ? '0' : replace(format(datum.value, '.1f'), '−', '-')"}},
      "detail": {"field": "l"}}},
    {"data": {"name": "sig"}, "transform": [{"filter": "datum.t == 0.39"}],
     "mark": {"type": "text", "align": "left", "baseline": "middle", "dx": 3, "fontSize": 15, "color": "#000000"},
     "encoding": {"x": {"field": "t", "type": "quantitative", "scale": {"domain": [0, 0.39], "nice": false, "zero": false}, "axis": null},
      "y": {"field": "d", "type": "quantitative", "scale": {"domain": [-1.125, 0.045], "nice": false, "zero": false}, "axis": null},
      "text": {"field": "l"}}}
   ],
   "resolve": {"axis": {"x": "independent", "y": "independent"}}
  }
 ]
}
]
}
